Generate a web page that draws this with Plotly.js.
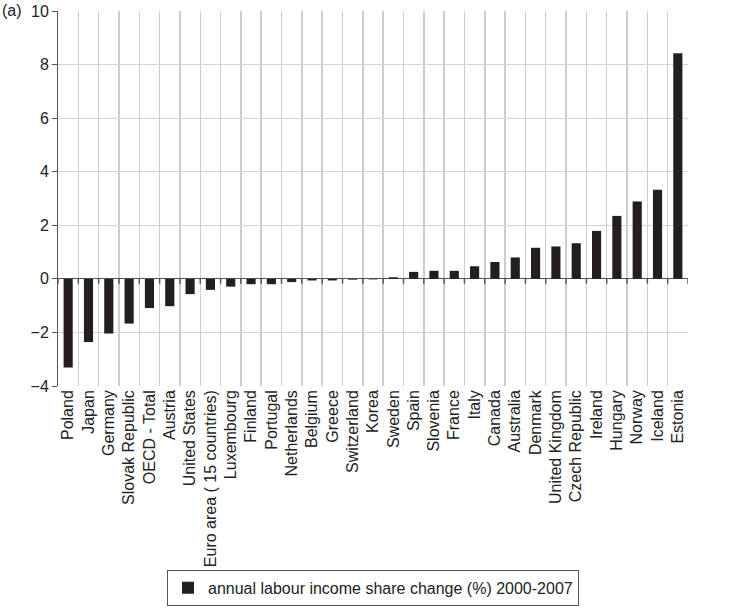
<!DOCTYPE html>
<html>
<head>
<meta charset="utf-8">
<script src="https://cdn.plot.ly/plotly-3.0.1.min.js"></script>
<style>
  html, body { margin: 0; padding: 0; background: #fff; }
  #chart { width: 733px; height: 611px; }
</style>
</head>
<body>
<div id="chart"></div>
<script>
// Länder, nach Wert sortiert
const countries = [
  'Poland', 'Japan', 'Germany', 'Slovak Republic', 'OECD - Total', 'Austria',
  'United States', 'Euro area ( 15 countries)', 'Luxembourg', 'Finland', 'Portugal',
  'Netherlands', 'Belgium', 'Greece', 'Switzerland', 'Korea', 'Sweden', 'Spain',
  'Slovenia', 'France', 'Italy', 'Canada', 'Australia', 'Denmark', 'United Kingdom',
  'Czech Republic', 'Ireland', 'Hungary', 'Norway', 'Iceland', 'Estonia'
];

// jährliche Veränderung des Lohnanteils (%) 2000-2007
const shareChange = [
  -3.31, -2.36, -2.04, -1.67, -1.09, -1.02,
  -0.57, -0.41, -0.29, -0.20, -0.20,
  -0.12, -0.06, -0.06, -0.03, -0.02, 0.06, 0.26,
  0.30, 0.30, 0.47, 0.63, 0.80, 1.16, 1.21,
  1.33, 1.79, 2.35, 2.89, 3.33, 8.42
];

const yTicks = [-4, -2, 0, 2, 4, 6, 8, 10];
const yMin = -4, yMax = 10;

const font = 'Liberation Sans, Arial, Helvetica, sans-serif';
const idx = countries.map((c, i) => i);
const xRange = [-0.5, countries.length - 0.5];
// Kategoriegrenzen für die kleinen Striche an der Nulllinie
const bounds = idx.concat([countries.length]).map(i => i - 0.5);

const bars = {
  type: 'bar',
  x: idx,
  y: shareChange,
  width: 0.45,
  name: 'annual labour income share change (%) 2000-2007',
  marker: { color: '#231f20' },
  cliponaxis: false
};

const zeroTicks = {
  type: 'scatter',
  mode: 'markers',
  x: bounds,
  y: bounds.map(() => 0),
  showlegend: false,
  hoverinfo: 'skip',
  cliponaxis: false,
  marker: { size: 1, color: 'rgba(0,0,0,0)' },
  error_y: {
    type: 'data',
    symmetric: false,
    array: bounds.map(() => 0),
    arrayminus: bounds.map(() => 0.18),
    width: 0,
    thickness: 1.5,
    color: '#555'
  }
};

const layout = {
  width: 733,
  height: 611,
  paper_bgcolor: '#fff',
  plot_bgcolor: '#fff',
  margin: { l: 58, r: 45, t: 11, b: 225, autoexpand: false },
  font: { family: font, color: '#222', size: 16 },
  xaxis: {
    range: xRange,
    tickvals: idx,
    ticktext: countries,
    tickangle: -90,
    ticks: '',
    showgrid: false,
    minor: { tick0: -0.5, dtick: 1, showgrid: true, gridcolor: '#cdcdcd', gridwidth: 1.5, ticks: '' },
    showline: false,
    zeroline: false,
    tickfont: { family: font, size: 16, color: '#222' },
    automargin: false
  },
  yaxis: {
    range: [yMin, yMax],
    tickvals: yTicks,
    ticktext: yTicks.map(v => v < 0 ? '\u2212' + Math.abs(v) : String(v)),
    ticks: 'outside',
    ticklen: 5,
    tickcolor: '#555',
    showline: true,
    linecolor: '#555',
    linewidth: 1,
    showgrid: true,
    gridcolor: '#d4d4d4',
    zeroline: true,
    zerolinecolor: '#555',
    zerolinewidth: 1,
    tickfont: { family: font, size: 16, color: '#222' }
  },
  showlegend: true,
  legend: {
    orientation: 'h',
    x: 0.5,
    xanchor: 'center',
    y: -0.49,
    yanchor: 'top',
    bordercolor: '#555',
    borderwidth: 1,
    font: { family: font, size: 16, color: '#222' },
    itemwidth: 30
  },
  annotations: [{
    text: '(a)',
    xref: 'paper',
    yref: 'paper',
    x: 0,
    y: 1,
    xshift: -58,
    yshift: 11,
    xanchor: 'left',
    yanchor: 'top',
    showarrow: false,
    font: { family: font, size: 16, color: '#222' }
  }]
};

Plotly.newPlot('chart', [bars, zeroTicks], layout, { displayModeBar: false, staticPlot: true });
</script>
</body>
</html>
